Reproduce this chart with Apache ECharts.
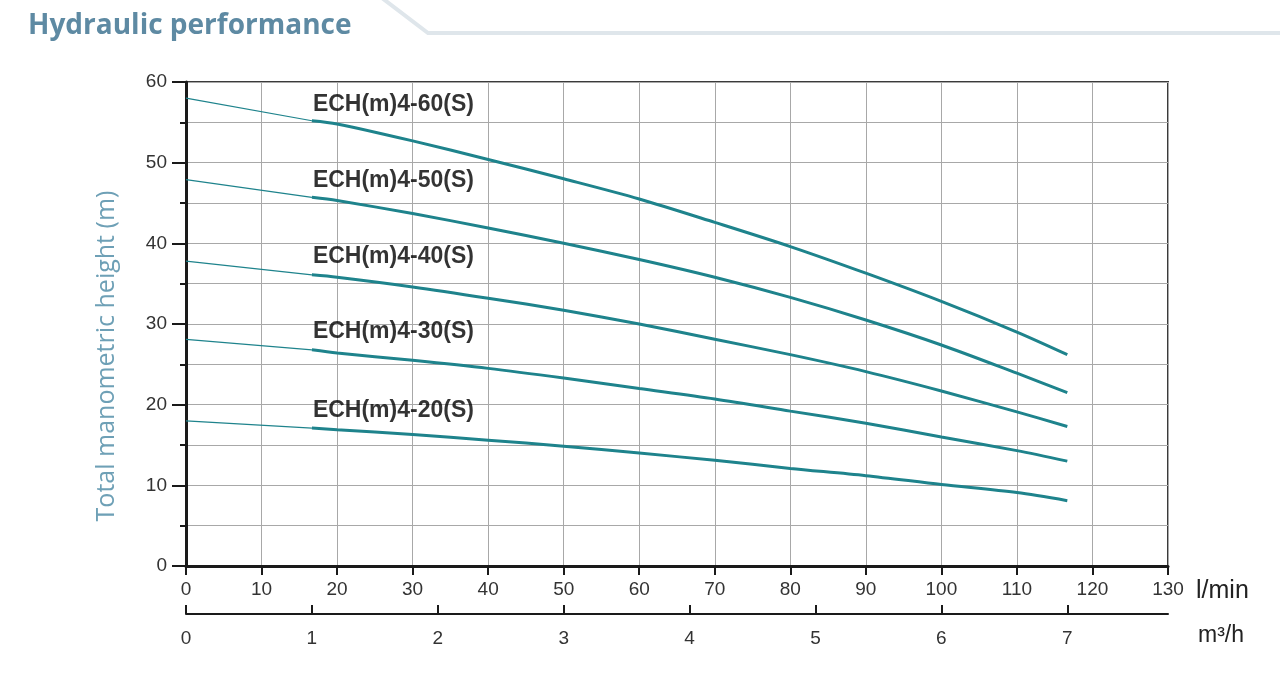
<!DOCTYPE html>
<html>
<head>
<meta charset="utf-8">
<title>Hydraulic performance</title>
<script src="https://cdn.jsdelivr.net/npm/echarts@6/dist/echarts.min.js"></script>
<style>
    html, body { margin: 0; padding: 0; background: #ffffff; }
    #chart { width: 1280px; height: 687px; }
</style>
</head>
<body>
<div id="chart"></div>
<script>
// 流量 (l/min)，细线段 0 ~ 1 m3/h，粗线段 1 ~ 7 m3/h
const flowThin = [0, 16.67]
const flowThick = [16.67, 20, 30, 40, 50, 60, 70, 80, 90, 100, 110, 116.67]

const models = ['ECH(m)4-60(S)', 'ECH(m)4-50(S)', 'ECH(m)4-40(S)', 'ECH(m)4-30(S)', 'ECH(m)4-20(S)']

// 扬程 (m)
const headThin = [
    [58.0, 55.2],
    [47.9, 45.7],
    [37.8, 36.1],
    [28.1, 26.8],
    [18.0, 17.1]
]
const headThick = [
    [55.2, 54.8, 52.7, 50.4, 48.0, 45.5, 42.6, 39.6, 36.3, 32.8, 29.0, 26.2],
    [45.7, 45.3, 43.7, 41.9, 40.0, 38.0, 35.8, 33.3, 30.5, 27.4, 23.9, 21.5],
    [36.1, 35.8, 34.6, 33.2, 31.7, 30.0, 28.1, 26.2, 24.1, 21.7, 19.1, 17.3],
    [26.8, 26.4, 25.5, 24.5, 23.3, 22.0, 20.7, 19.2, 17.7, 16.0, 14.3, 13.0],
    [17.1, 16.9, 16.3, 15.6, 14.85, 14.0, 13.1, 12.1, 11.2, 10.1, 9.1, 8.1]
]

// 曲线标签位置 (左端 l/min, 中心 m)
const labelX = [16.8, 16.8, 16.8, 16.8, 16.8]
const labelY = [57.15, 47.8, 38.3, 29.0, 19.2]

// 第二横轴 m3/h 刻度
const m3hTicks = [0, 1, 2, 3, 4, 5, 6, 7]

const curveColor = '#1e838c'
const axisFont = 'Liberation Sans, Arial, sans-serif'

function pairs(xs, ys) {
    return xs.map((x, i) => [x, ys[i]])
}

let series = []
for (let i = 0; i < models.length; i++) {
    // 细线 (0 ~ 1 m3/h)
    series.push({
        name: models[i] + ' thin',
        type: 'line',
        xAxisIndex: 0,
        data: pairs(flowThin, headThin[i]),
        symbol: 'none',
        lineStyle: { color: curveColor, width: 1.2 },
        z: 3
    })
    // 粗线 (1 ~ 7 m3/h)
    series.push({
        name: models[i],
        type: 'line',
        xAxisIndex: 0,
        data: pairs(flowThick, headThick[i]),
        symbol: 'none',
        smooth: 0.3,
        lineStyle: { color: curveColor, width: 3, cap: 'butt' },
        z: 4
    })
}

// 型号文字
series.push({
    type: 'scatter',
    xAxisIndex: 0,
    symbolSize: 0,
    data: labelX.map((x, i) => ({ value: [x, labelY[i]], name: models[i] })),
    label: {
        show: true,
        position: 'right',
        distance: 0,
        formatter: '{b}',
        fontFamily: axisFont,
        fontWeight: 'bold',
        fontSize: 23,
        color: '#000000'
    },
    silent: true,
    z: 5
})

let chart = echarts.init(document.getElementById('chart'))
chart.setOption({
    animation: false,
    backgroundColor: '#ffffff',
    graphic: [
        {
            type: 'polyline',
            shape: { points: [[382, -2], [428, 33], [1282, 33]] },
            style: { stroke: '#dfe6eb', lineWidth: 4, fill: null },
            silent: true
        },
        {
            type: 'text',
            left: 28,
            top: 12,
            style: {
                text: 'Hydraulic performance',
                fill: '#5e8aa3',
                font: 'bold 28px "Open Sans", sans-serif'
            }
        }
    ],
    grid: {
        left: 186,
        right: 112,
        top: 82,
        bottom: 121,
        show: true,
        borderColor: '#3a3a3a',
        borderWidth: 2,
        backgroundColor: 'transparent'
    },
    xAxis: [
        {
            type: 'value',
            min: 0,
            max: 130,
            interval: 10,
            position: 'bottom',
            name: 'l/min',
            nameLocation: 'end',
            nameGap: 28,
            nameTextStyle: {
                fontFamily: axisFont,
                fontSize: 25,
                color: '#222222',
                verticalAlign: 'top',
                padding: [13, 0, 0, 0]
            },
            axisLine: { show: true, onZero: false, lineStyle: { color: '#1a1a1a', width: 3 } },
            axisTick: { show: true, length: 9, lineStyle: { color: '#1a1a1a', width: 2 } },
            axisLabel: { margin: 14, fontFamily: axisFont, fontSize: 19, color: '#333333' },
            splitLine: { show: true, lineStyle: { color: '#a8a8a8', width: 1 } }
        },
        {
            type: 'value',
            min: 0,
            max: 7.8,
            position: 'bottom',
            offset: 48,
            name: 'm³/h',
            nameLocation: 'end',
            nameGap: 30,
            nameTextStyle: {
                fontFamily: axisFont,
                fontSize: 23,
                color: '#222222',
                verticalAlign: 'top',
                padding: [10, 0, 0, 0]
            },
            axisLine: { show: true, onZero: false, lineStyle: { color: '#1a1a1a', width: 2 } },
            axisTick: { show: true, inside: true, length: 9, customValues: m3hTicks, lineStyle: { color: '#1a1a1a', width: 2 } },
            axisLabel: { margin: 15, customValues: m3hTicks, fontFamily: axisFont, fontSize: 19, color: '#333333' },
            splitLine: { show: false }
        }
    ],
    yAxis: {
        type: 'value',
        min: 0,
        max: 60,
        interval: 10,
        name: 'Total manometric height (m)',
        nameLocation: 'middle',
        nameRotate: 90,
        nameGap: 67,
        nameTextStyle: {
            fontFamily: '"Open Sans", sans-serif',
            fontSize: 25,
            color: '#6ea0b6',
            padding: [0, 64, 0, 0]
        },
        axisLine: { show: true, lineStyle: { color: '#1a1a1a', width: 3 } },
        axisTick: { show: true, length: 14, lineStyle: { color: '#1a1a1a', width: 2 } },
        minorTick: { show: true, splitNumber: 2, length: 6, lineStyle: { color: '#1a1a1a', width: 2 } },
        axisLabel: { margin: 19, fontFamily: axisFont, fontSize: 19, color: '#333333' },
        splitLine: { show: true, lineStyle: { color: '#a8a8a8', width: 1 } },
        minorSplitLine: { show: true, lineStyle: { color: '#a8a8a8', width: 1 } }
    },
    series: series
})
</script>
</body>
</html>
